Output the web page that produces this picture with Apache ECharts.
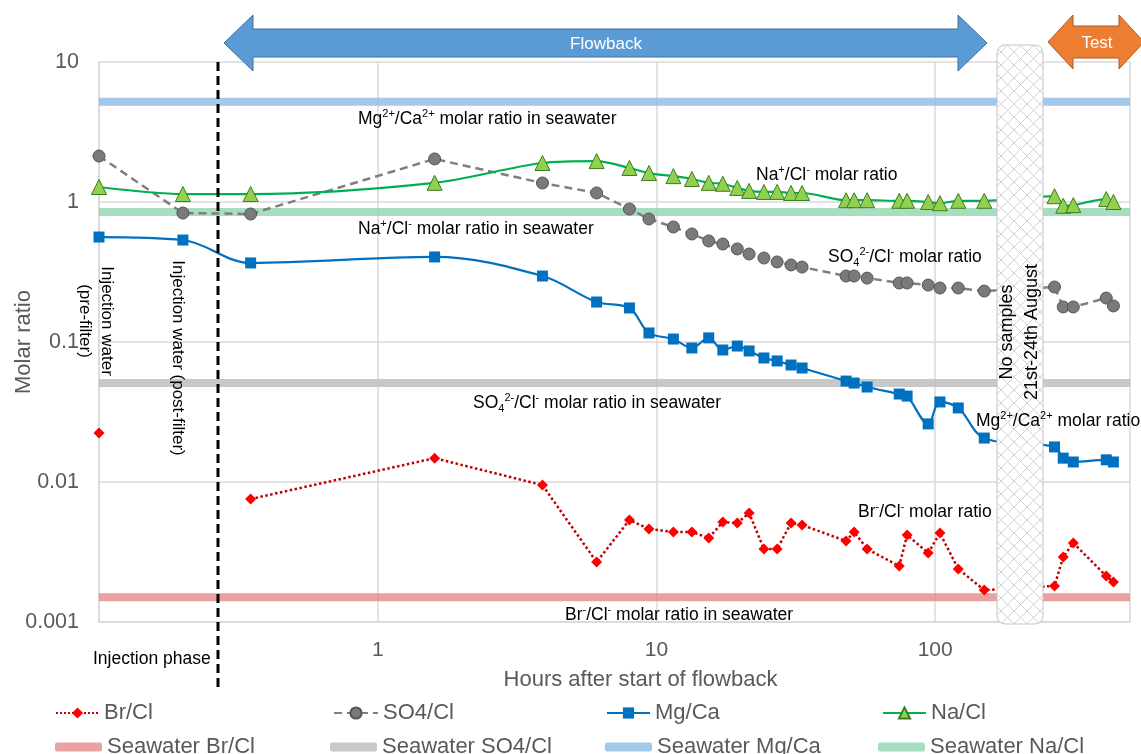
<!DOCTYPE html>
<html>
<head>
<meta charset="utf-8">
<script src="https://cdn.jsdelivr.net/npm/echarts@6/dist/echarts.min.js"></script>
<style>
html, body { margin: 0; padding: 0; background: #fff; }
#chart { width: 1141px; height: 754px; }
</style>
</head>
<body>
<div id="chart"></div>
<script>
// sampling times (hours after start of flowback); first two are injection water
var hours = [0.1, 0.2, 0.35, 1.6, 3.9, 6.1, 8.0, 9.4, 11.5, 13.4, 15.4, 17.3, 19.5, 21.5, 24.3, 27.1,
	30.4, 33.3, 47.9, 51.2, 57.0, 74.3, 79.3, 94.4, 104, 121, 150, 268, 288, 313, 411, 436];

var brCl = [0.0224, null, 0.00756, 0.0148, 0.0095, 0.00268, 0.00535, 0.00462, 0.0044, 0.0044, 0.00398,
	0.00518, 0.00509, 0.006, 0.00332, 0.00332, 0.00509, 0.00493, 0.00379, 0.0044, 0.00332, 0.00251,
	0.00418, 0.00311, 0.00432, 0.00239, 0.00169, 0.00181, 0.00291, 0.00367, 0.00213, 0.00193];

var so4Cl = [2.13, 0.834, 0.821, 2.03, 1.367, 1.16, 0.891, 0.756, 0.663, 0.591, 0.527, 0.501, 0.462,
	0.425, 0.398, 0.373, 0.355, 0.343, 0.296, 0.296, 0.286, 0.264, 0.264, 0.255, 0.243, 0.243, 0.231,
	0.247, 0.178, 0.178, 0.206, 0.181];

var mgCa = [0.562, 0.535, 0.367, 0.405, 0.296, 0.193, 0.175, 0.116, 0.105, 0.0906, 0.107, 0.0877,
	0.0936, 0.0863, 0.0769, 0.0732, 0.0685, 0.0652, 0.0526, 0.0509, 0.0477, 0.0425, 0.0411, 0.026,
	0.0373, 0.0338, 0.0206, 0.0178, 0.0148, 0.0139, 0.0144, 0.0139];

var naCl = [1.28, 1.14, 1.14, 1.37, 1.90, 1.96, 1.75, 1.61, 1.53, 1.46, 1.37, 1.35, 1.26, 1.20, 1.18,
	1.18, 1.16, 1.16, 1.03, 1.03, 1.03, 1.02, 1.02, 1.00, 0.98, 1.02, 1.02, 1.10, 0.94, 0.95, 1.05, 1.00];

// seawater reference ratios
var seawaterBrCl = 0.0015,
	seawaterSo4Cl = 0.051,
	seawaterMgCa = 5.2,
	seawaterNaCl = 0.85;

var xMin = 0.1, xMax = 500;
var xTickLabels = ['1', '10', '100'];

var FONT = "'Liberation Sans', Arial, sans-serif",
	GREY = '#595959';

function pairs(arr) {
	return hours.map(function (h, i) {
		return [h, arr[i] == null ? '-' : arr[i]];
	});
}

function band(name, v, color) {
	return {
		name: name,
		type: 'line',
		z: 1,
		symbol: 'none',
		silent: true,
		color: color,
		lineStyle: { width: 8, color: color },
		data: [[xMin, v], [xMax, v]]
	};
}

function legendAt(name, left, top, w, h, icon) {
	return {
		data: [icon ? { name: name, icon: icon } : name],
		left: left,
		top: top,
		itemWidth: w,
		itemHeight: h,
		padding: 0,
		selectedMode: false,
		textStyle: { color: GREY, fontSize: 22, fontFamily: FONT }
	};
}

// crosshatch fill for the "no samples" gap
function hatch() {
	var s = 13,
		c = document.createElement('canvas');
	c.width = s;
	c.height = s;
	var g = c.getContext('2d');
	g.fillStyle = '#fff';
	g.fillRect(0, 0, s, s);
	g.strokeStyle = '#d2d2d2';
	g.lineWidth = 1;
	g.beginPath();
	g.moveTo(0, 0); g.lineTo(s, s);
	g.moveTo(s, 0); g.lineTo(0, s);
	g.stroke();
	return c;
}

function dblArrow(x0, x1, yc, hh, bh, hl) {
	return [[x0, yc], [x0 + hl, yc - hh], [x0 + hl, yc - bh], [x1 - hl, yc - bh], [x1 - hl, yc - hh],
		[x1, yc], [x1 - hl, yc + hh], [x1 - hl, yc + bh], [x0 + hl, yc + bh], [x0 + hl, yc + hh]];
}

var rich = {
	n: { fontSize: 17.5, lineHeight: 22, verticalAlign: 'middle', fill: '#000', fontFamily: FONT },
	u: { fontSize: 11, lineHeight: 11, verticalAlign: 'top', fill: '#000', fontFamily: FONT },
	d: { fontSize: 11, lineHeight: 11, verticalAlign: 'bottom', fill: '#000', fontFamily: FONT }
};

function note(text, x, y) {
	return {
		type: 'text',
		x: x,
		y: y,
		z: 100,
		style: { text: text, rich: rich, align: 'left', verticalAlign: 'middle' }
	};
}

function vnote(text, x, y, rot, size, lh) {
	return {
		type: 'text',
		x: x,
		y: y,
		rotation: rot,
		z: 100,
		style: {
			text: text,
			fill: '#000',
			font: size + 'px ' + FONT,
			lineHeight: lh,
			align: 'center',
			verticalAlign: 'middle'
		}
	};
}

var chart = echarts.init(document.getElementById('chart'), null, { renderer: 'canvas' });

var option = {
	animation: false,
	backgroundColor: '#fff',
	grid: { left: 99, right: 11, top: 62, bottom: 132, outerBoundsMode: 'none' },
	legend: [
		legendAt('Br/Cl', 55, 702, 43, 14),
		legendAt('SO4/Cl', 333, 702, 44, 14),
		legendAt('Mg/Ca', 606, 702, 43, 14),
		legendAt('Na/Cl', 882, 702, 43, 14),
		legendAt('Seawater Br/Cl', 55, 736, 47, 9, 'roundRect'),
		legendAt('Seawater SO4/Cl', 330, 736, 47, 9, 'roundRect'),
		legendAt('Seawater Mg/Ca', 605, 736, 47, 9, 'roundRect'),
		legendAt('Seawater Na/Cl', 878, 736, 47, 9, 'roundRect')
	],
	xAxis: {
		type: 'log',
		logBase: 10,
		min: xMin,
		max: xMax,
		name: 'Hours after start of flowback',
		nameLocation: 'middle',
		nameGap: 47,
		nameMoveOverlap: false,
		nameTextStyle: { color: GREY, fontSize: 22, fontFamily: FONT, padding: [0, 0, 0, 52] },
		axisLine: { show: true, lineStyle: { color: '#d9d9d9', width: 1.5 } },
		axisTick: { show: false },
		axisLabel: {
			color: GREY,
			fontSize: 21,
			fontFamily: FONT,
			margin: 18,
			formatter: function (v) {
				var s = String(Math.round(v));
				return v >= 1 && xTickLabels.indexOf(s) >= 0 ? s : '';
			}
		},
		splitLine: { show: true, lineStyle: { color: '#d9d9d9', width: 1.5 } }
	},
	yAxis: {
		type: 'log',
		logBase: 10,
		min: 0.001,
		max: 10,
		name: 'Molar ratio',
		nameLocation: 'middle',
		nameGap: 64,
		nameMoveOverlap: false,
		nameTextStyle: { color: GREY, fontSize: 22, fontFamily: FONT },
		axisLine: { show: true, lineStyle: { color: '#d9d9d9', width: 1.5 } },
		axisTick: { show: false },
		axisLabel: { color: GREY, fontSize: 21.5, fontFamily: FONT, margin: 20 },
		splitLine: { show: true, lineStyle: { color: '#d9d9d9', width: 1.5 } }
	},
	series: [
		{
			name: 'Br/Cl',
			type: 'line',
			z: 3,
			data: pairs(brCl),
			symbol: 'diamond',
			symbolSize: 11,
			itemStyle: { color: '#ff0000' },
			lineStyle: { color: '#c00000', width: 2.5, type: 'dotted' }
		},
		{
			name: 'SO4/Cl',
			type: 'line',
			z: 3,
			data: pairs(so4Cl),
			symbol: 'circle',
			symbolSize: 12,
			itemStyle: { color: '#7a7a7a', borderColor: '#555', borderWidth: 1 },
			lineStyle: { color: '#7f7f7f', width: 2.5, type: [8, 5] }
		},
		{
			name: 'Mg/Ca',
			type: 'line',
			z: 3,
			data: pairs(mgCa),
			smooth: 0.35,
			symbol: 'rect',
			symbolSize: 11,
			itemStyle: { color: '#0070c0' },
			lineStyle: { color: '#0070c0', width: 2.2 }
		},
		{
			name: 'Na/Cl',
			type: 'line',
			z: 4,
			data: pairs(naCl),
			smooth: 0.3,
			symbol: 'triangle',
			symbolSize: 15,
			itemStyle: { color: '#92d050', borderColor: '#3b7d23', borderWidth: 1 },
			lineStyle: { color: '#00b050', width: 2.2 }
		},
		band('Seawater Br/Cl', seawaterBrCl, 'rgba(226,130,130,0.75)'),
		band('Seawater SO4/Cl', seawaterSo4Cl, 'rgba(190,190,190,0.85)'),
		band('Seawater Mg/Ca', seawaterMgCa, 'rgba(141,186,228,0.8)'),
		band('Seawater Na/Cl', seawaterNaCl, 'rgba(146,214,176,0.8)')
	],
	graphic: [
		{
			type: 'polygon',
			z: 100,
			shape: { points: dblArrow(224, 987, 43, 28, 14, 29) },
			style: { fill: '#5b9bd5', stroke: '#41719c', lineWidth: 1 }
		},
		{
			type: 'text', z: 101, x: 606, y: 44,
			style: { text: 'Flowback', fill: '#fff', font: '17px ' + FONT, align: 'center', verticalAlign: 'middle' }
		},
		{
			type: 'polygon',
			z: 100,
			shape: { points: dblArrow(1048, 1144, 42, 27, 16, 25) },
			style: { fill: '#ed7d31', stroke: '#ae5a21', lineWidth: 1 }
		},
		{
			type: 'text', z: 101, x: 1097, y: 43,
			style: { text: 'Test', fill: '#fff', font: '17px ' + FONT, align: 'center', verticalAlign: 'middle' }
		},
		{
			type: 'rect',
			z: 100,
			shape: { x: 997, y: 45, width: 46, height: 579, r: 8 },
			style: { fill: { image: hatch(), repeat: 'repeat' }, stroke: '#c4c4c4', lineWidth: 1 }
		},
		vnote('No samples\n21st-24th August', 1020, 332, Math.PI / 2, 18, 25),
		{
			type: 'line',
			z: 100,
			shape: { x1: 218, y1: 62, x2: 218, y2: 692 },
			style: { stroke: '#000', lineWidth: 3, lineDash: [9, 5] }
		},
		vnote('Injection water\n(pre-filter)', 96, 321, -Math.PI / 2, 17, 22),
		vnote('Injection water (post-filter)', 178, 358, -Math.PI / 2, 17, 22),
		note('{n|Injection phase}', 93, 659),
		note('{n|Mg}{u|2+}{n|/Ca}{u|2+}{n| molar ratio in seawater}', 358, 119),
		note('{n|Na}{u|+}{n|/Cl}{u|-}{n| molar ratio in seawater}', 358, 229),
		note('{n|Na}{u|+}{n|/Cl}{u|-}{n| molar ratio}', 756, 175),
		note('{n|SO}{d|4}{u|2-}{n|/Cl}{u|-}{n| molar ratio}', 828, 257),
		note('{n|SO}{d|4}{u|2-}{n|/Cl}{u|-}{n| molar ratio in seawater}', 473, 403),
		note('{n|Mg}{u|2+}{n|/Ca}{u|2+}{n| molar ratio}', 976, 421),
		note('{n|Br}{u|-}{n|/Cl}{u|-}{n| molar ratio}', 858, 512),
		note('{n|Br}{u|-}{n|/Cl}{u|-}{n| molar ratio in seawater}', 565, 615)
	]
};

chart.setOption(option);
</script>
</body>
</html>
